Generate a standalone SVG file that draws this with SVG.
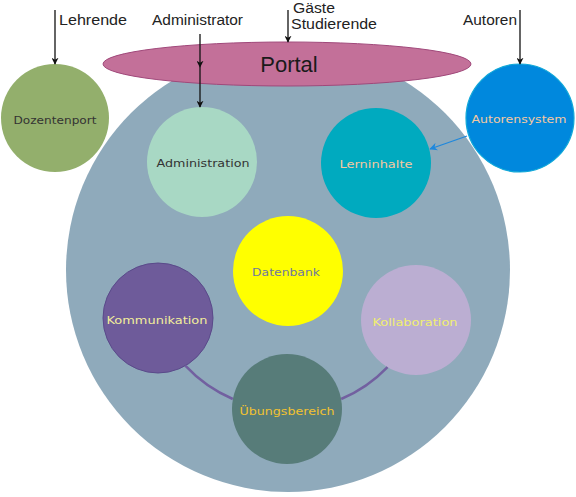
<svg xmlns="http://www.w3.org/2000/svg" width="576" height="497" viewBox="0 0 576 497">
<style>
.lbl{font-family:"Liberation Sans",Arial,sans-serif;font-size:14px;fill:#222}
.nt{font-family:"DejaVu Sans","Liberation Sans",sans-serif;font-size:11px;text-anchor:middle;dominant-baseline:central}
.arr{stroke:#111;stroke-width:1.3;fill:none;marker-end:url(#ah)}
.ring{fill:none;stroke:#7260A0;stroke-width:2.5}
</style>
<defs>
<marker id="ah" viewBox="0 0 10 10" refX="9" refY="5" markerWidth="7" markerHeight="7" markerUnits="userSpaceOnUse" orient="auto">
<path d="M0,0 L10,5 L0,10 L3,5 Z" fill="#111"/>
</marker>
<marker id="ahb" viewBox="0 0 10 10" refX="9" refY="5" markerWidth="8" markerHeight="8" markerUnits="userSpaceOnUse" orient="auto">
<path d="M0,0 L10,5 L0,10 L3,5 Z" fill="#1E88DD"/>
</marker>
</defs>
<g id="platform"><circle cx="288" cy="270" r="222" fill="#8FAABB"/></g>
<g id="portal"><ellipse cx="287" cy="64" rx="184" ry="22" fill="#C37099" stroke="#A0487A" stroke-width="1"/>
<text x="289" y="72" font-family="'Liberation Sans',Arial,sans-serif" font-size="22" text-anchor="middle" fill="#1a1a1a">Portal</text></g>
<g id="dozentenport"><circle cx="55" cy="118" r="54" fill="#93AF6C"/><text class="nt" x="55" y="120" fill="#333" textLength="83" lengthAdjust="spacingAndGlyphs">Dozentenport</text></g>
<g id="administration"><circle cx="202" cy="162" r="55" fill="#A8D8C4"/><text class="nt" x="203" y="163" fill="#333" textLength="93" lengthAdjust="spacingAndGlyphs">Administration</text></g>
<g id="lerninhalte"><circle cx="376" cy="163" r="55" fill="#00AABF"/><text class="nt" x="376" y="164" fill="#F5C8A0" textLength="73" lengthAdjust="spacingAndGlyphs">Lerninhalte</text></g>
<g id="autorensystem"><circle cx="520" cy="118" r="54" fill="#0088DD" stroke="#10A8D8" stroke-width="1.2"/><text class="nt" x="519" y="119" fill="#F5C8A0" textLength="95" lengthAdjust="spacingAndGlyphs">Autorensystem</text></g>
<g id="datenbank"><circle cx="288" cy="271" r="55" fill="#FFFF00"/><text class="nt" x="286" y="272" fill="#6E78A0" textLength="68" lengthAdjust="spacingAndGlyphs">Datenbank</text></g>
<g id="kommunikation"><circle cx="158" cy="318" r="55" fill="#6E5B9A" stroke="#5A4A8A" stroke-width="1"/><text class="nt" x="157" y="320" fill="#F2EE9A" textLength="101" lengthAdjust="spacingAndGlyphs">Kommunikation</text></g>
<g id="kollaboration"><circle cx="416" cy="320" r="55" fill="#BBAED2"/><text class="nt" x="415" y="322" fill="#F0EE70" textLength="85" lengthAdjust="spacingAndGlyphs">Kollaboration</text></g>
<g id="uebungsbereich"><circle cx="287" cy="409" r="55" fill="#577C79"/><text class="nt" x="287" y="411" fill="#F2C230" textLength="95" lengthAdjust="spacingAndGlyphs">Übungsbereich</text></g>
<g id="connectors">
<path class="ring" d="M185.3,365.7 A139,139 0 0 0 232.8,399"/>
<path class="ring" d="M341.2,399 A139,139 0 0 0 387.5,367.1"/>
<line class="arr" x1="55" y1="10" x2="55" y2="64"/>
<line class="arr" x1="200" y1="34" x2="200" y2="67"/>
<line class="arr" x1="200" y1="67" x2="200" y2="107"/>
<line class="arr" x1="288" y1="10" x2="288" y2="42"/>
<line class="arr" x1="520" y1="10" x2="520" y2="64"/>
<line x1="467" y1="136" x2="430" y2="149" stroke="#1E88DD" stroke-width="1.3" marker-end="url(#ahb)"/>
</g>
<g id="labels">
<text class="lbl" x="59" y="25" textLength="68" lengthAdjust="spacingAndGlyphs">Lehrende</text>
<text class="lbl" x="152" y="25" textLength="91" lengthAdjust="spacingAndGlyphs">Administrator</text>
<text class="lbl" x="293" y="13" textLength="42" lengthAdjust="spacingAndGlyphs">Gäste</text>
<text class="lbl" x="291" y="29" textLength="86" lengthAdjust="spacingAndGlyphs">Studierende</text>
<text class="lbl" x="463" y="25" textLength="54" lengthAdjust="spacingAndGlyphs">Autoren</text>
</g>
</svg>
